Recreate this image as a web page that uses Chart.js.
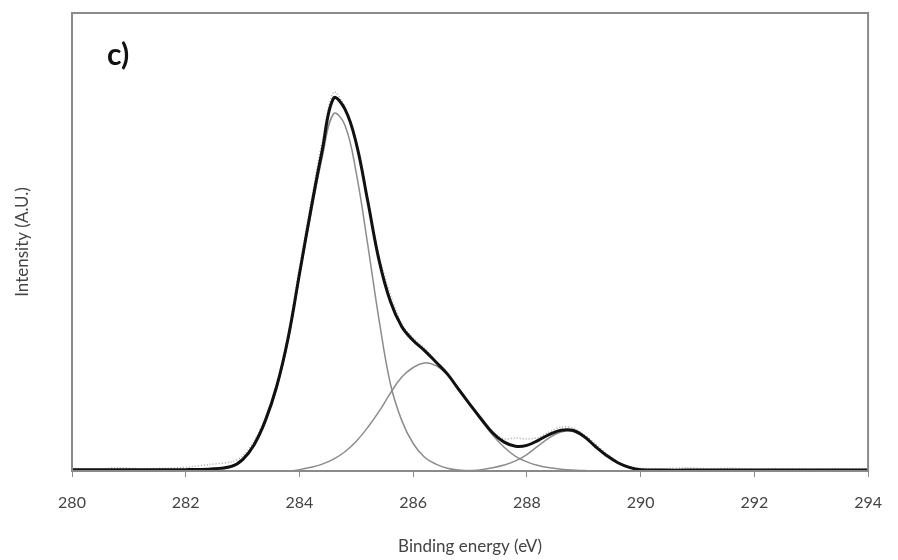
<!DOCTYPE html>
<html>
<head>
<meta charset="utf-8">
<script src="https://cdn.jsdelivr.net/npm/chart.js@4.4.1/dist/chart.umd.min.js"></script>
<style>
  html,body{margin:0;padding:0;background:#fff;}
  #wrap{width:898px;height:560px;}
</style>
</head>
<body>
<div id="wrap"><canvas id="xps" width="898" height="560"></canvas></div>
<script>
/* C1s spectrum, panel c) (A.U., 0..100) */
const energy = [280,281,282,282.4,282.8,283,283.2,283.4,283.6,283.8,284,284.2,284.4,284.6,284.8,285,285.2,285.4,285.6,285.8,
  286,286.2,286.4,286.6,286.8,287,287.2,287.4,287.6,287.8,288,288.2,288.4,288.6,288.8,289,289.2,289.4,289.6,289.8,
  290,290.4,291,292,293,294];
const envelope = [0.3,0.3,0.3,0.4,1.0,2.5,5.7,11,18.5,29,43,57,70,81.4,79,71.5,59,46,37,31.5,
  28.5,26.3,23.8,21.2,17.8,14.5,11.3,8.3,6.3,5.4,5.6,6.7,8.0,8.9,8.9,7.6,5.4,3.4,1.8,0.8,
  0.3,0.2,0.2,0.2,0.2,0.2];
const peakC1 = [0,0,0,0,0.8,2.3,5.5,10.7,18,28.5,42.7,56,68.5,78,75.5,65,49.5,33,19,11,
  6,3,1.5,0.6,0.2,0,0,0,0,0,0,0,0,0,0,0,0,0,0,0,
  0,0,0,0,0,0];
const peakC2 = [0,0,0,0,0,0,0,0,0,0,0.3,0.8,1.5,2.6,4.2,6.5,9.5,13,17,20.5,
  22.6,23.6,23,21,18,14.5,11,7.8,5.2,3.2,2,1.2,0.7,0.4,0.2,0.1,0,0,0,0,
  0,0,0,0,0,0];
const peakC3 = [0,0,0,0,0,0,0,0,0,0,0,0,0,0,0,0,0,0,0,0,
  0,0,0,0,0,0.1,0.3,0.7,1.3,2.2,3.6,5.5,7.3,8.5,8.7,7.5,5.4,3.4,1.8,0.8,
  0.3,0,0,0,0,0];
const rawEnergy = [280,280.4,280.8,281.2,281.6,282,282.4,282.8,283,283.2,283.4,283.6,283.8,284,284.2,284.4,284.6,284.8,285,285.2,
  285.4,285.6,285.8,286,286.2,286.4,286.6,286.8,287,287.2,287.4,287.6,287.8,288,288.2,288.4,288.6,288.8,289,289.2,
  289.4,289.6,289.8,290,290.4,290.8,291.2,291.6,292,292.5,293,293.5,294];
const rawCounts = [0.6,0.4,0.7,0.5,0.6,0.8,1.4,2.0,3.2,6.5,11.5,19,30,44.5,58.5,72,82.7,79.5,72,59.5,
  47,38.5,32,29,26.8,24,21.5,18,14.3,11,8.5,7.0,7.2,7.0,7.3,8.6,9.6,9.4,8.0,6.0,
  3.8,2.0,1.0,0.6,0.5,0.7,0.5,0.6,0.4,0.5,0.4,0.5,0.4];
const xTicks = [280,282,284,286,288,290,292,294];

const pts=(xs,ys)=>xs.map((x,i)=>({x:x,y:ys[i]}));
const FONT='Lato, "Open Sans", sans-serif';

const frame={
  id:'frame',
  afterDatasetsDraw(chart){
    const a=chart.chartArea, ctx=chart.ctx;
    ctx.save();
    ctx.strokeStyle='#8a8a8a';ctx.lineWidth=2;
    ctx.strokeRect(a.left,a.top,a.right-a.left,a.bottom-a.top);
    ctx.fillStyle='#111';
    ctx.font='bold 30px '+FONT;
    ctx.textBaseline='alphabetic';
    ctx.fillText('c)',a.left+35,a.top+52);
    ctx.restore();
  }
};

new Chart(document.getElementById('xps'),{
  type:'line',
  data:{datasets:[
    {label:'Envelope',data:pts(energy,envelope),borderColor:'#111',borderWidth:3,pointRadius:0,tension:0.4},
    {label:'C1',data:pts(energy,peakC1),borderColor:'#8c8c8c',borderWidth:1.5,pointRadius:0,tension:0.4},
    {label:'C2',data:pts(energy,peakC2),borderColor:'#8c8c8c',borderWidth:1.5,pointRadius:0,tension:0.4},
    {label:'C3',data:pts(energy,peakC3),borderColor:'#8c8c8c',borderWidth:1.5,pointRadius:0,tension:0.4},
    {label:'Raw',data:pts(rawEnergy,rawCounts),borderColor:'#a8a8a8',borderWidth:1.5,borderDash:[1,2],pointRadius:0,tension:0.3}
  ]},
  plugins:[frame],
  options:{
    responsive:false,animation:false,
    layout:{padding:{top:13,right:22,bottom:0,left:0}},
    plugins:{legend:{display:false},tooltip:{enabled:false}},
    scales:{
      x:{type:'linear',min:280,max:294,
        afterBuildTicks:s=>{s.ticks=xTicks.map(v=>({value:v}));},
        afterFit:s=>{s.height=89;},
        border:{display:false},
        grid:{drawOnChartArea:false,drawTicks:true,tickLength:6,color:'#8a8a8a'},
        ticks:{padding:16,color:'#444',font:{family:FONT,size:16},maxRotation:0},
        title:{display:true,text:'Binding energy (eV)',color:'#444',font:{family:FONT,size:17},padding:{top:4,bottom:3}}
      },
      y:{min:0,max:100,
        afterFit:s=>{s.width=72;},
        border:{display:false},
        grid:{display:false},
        ticks:{display:false},
        title:{display:true,text:'Intensity (A.U.)',color:'#444',font:{family:FONT,size:17},padding:{top:12,bottom:0}}
      }
    }
  }
});
</script>
</body>
</html>
